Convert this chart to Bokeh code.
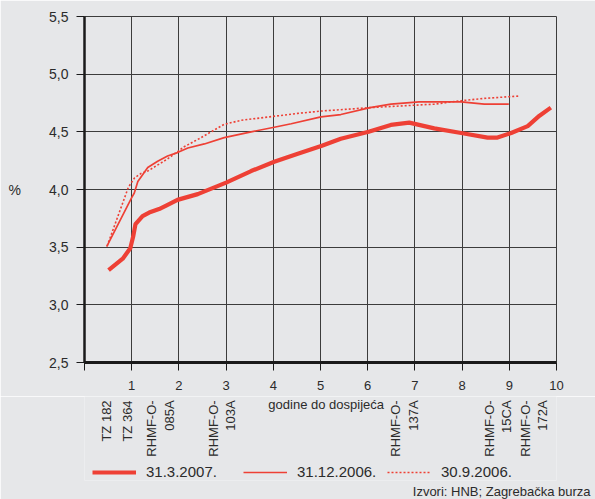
import math
from bokeh.plotting import figure
from bokeh.layouts import column
from bokeh.models import Range1d, FixedTicker, Legend, LegendItem, Title
from bokeh.core.properties import value
from bokeh.embed import file_html
from bokeh.resources import INLINE

# ---- data ----
x_mar07 = [0.51, 0.81, 0.97, 1.03, 1.08, 1.23, 1.37, 1.58, 1.73, 1.97, 2.40, 3.00, 3.53,
           4.02, 4.52, 5.03, 5.43, 6.02, 6.49, 6.88, 7.41, 7.98, 8.54, 8.75, 9.04, 9.39,
           9.64, 9.88]
y_mar07 = [3.30, 3.40, 3.49, 3.59, 3.70, 3.77, 3.80, 3.83, 3.86, 3.91, 3.96, 4.06, 4.16,
           4.24, 4.31, 4.38, 4.44, 4.50, 4.56, 4.58, 4.53, 4.49, 4.45, 4.45, 4.49, 4.55,
           4.64, 4.71]

x_dec06 = [0.47, 1.00, 1.055, 1.13, 1.34, 1.55, 1.76, 1.97, 2.19, 2.54, 2.96, 3.53, 4.02,
           4.38, 5.01, 5.43, 6.05, 6.49, 7.09, 7.98, 8.47, 8.99]
y_dec06 = [3.505, 3.93, 3.97, 4.07, 4.19, 4.245, 4.29, 4.32, 4.36, 4.395, 4.45, 4.50, 4.54,
           4.57, 4.63, 4.65, 4.71, 4.74, 4.76, 4.76, 4.74, 4.74]

x_sep06 = [0.48, 0.93, 1.06, 1.20, 1.34, 1.76, 2.11, 2.47, 2.68, 2.96, 3.32, 3.92, 4.52,
           5.01, 6.05, 7.41, 7.98, 8.47, 9.20]
y_sep06 = [3.51, 4.02, 4.10, 4.14, 4.16, 4.265, 4.37, 4.45, 4.50, 4.565, 4.60, 4.63, 4.66,
           4.68, 4.71, 4.74, 4.77, 4.79, 4.81]

series_labels = ["31.3.2007.", "31.12.2006.", "30.9.2006."]

x_ticks = [0, 1, 2, 3, 4, 5, 6, 7, 8, 9, 10]
y_ticks = [2.5, 3.0, 3.5, 4.0, 4.5, 5.0, 5.5]
y_tick_labels = ["2,5", "3,0", "3,5", "4,0", "4,5", "5,0", "5,5"]

security_names = ["TZ 182", "TZ 364", "RHMF-O-\n085A", "RHMF-O-\n103A",
                  "RHMF-O-\n137A", "RHMF-O-\n15CA", "RHMF-O-\n172A"]
security_pos = [0.62, 1.08, 1.95, 3.25, 7.12, 9.10, 9.87]

x_title = "godine do dospijeća"
x_title_pos = 5.12
y_title = "%"
source_note = "Izvori: HNB; Zagrebačka burza"

# ---- layout / style ----
W = 595
H_TOP = 396
H_BOT = 499 - H_TOP
FRAME_L, FRAME_R, FRAME_T, FRAME_B = 84, 39, 16, 34
BOT_B = 17  # bottom border of the lower strip (holds the source note)

BG = "#e6e7e9"
RED = "#ee4035"
GRID = "#3c3c3c"
TXT = "#2b2b2b"
FONT = "Liberation Sans"

xr = Range1d(0, 10)

p = figure(width=W, height=H_TOP, output_backend="svg", toolbar_location=None,
           x_range=xr, y_range=Range1d(2.5, 5.5),
           min_border_left=FRAME_L, min_border_right=FRAME_R,
           min_border_top=FRAME_T, min_border_bottom=FRAME_B)
p.background_fill_color = BG
p.border_fill_color = BG
p.outline_line_color = GRID
p.outline_line_width = 1

p.xaxis.ticker = FixedTicker(ticks=x_ticks)
p.yaxis.ticker = FixedTicker(ticks=y_ticks)
p.xaxis.major_label_overrides = {0: ""}
p.yaxis.major_label_overrides = {t: l for t, l in zip(y_ticks, y_tick_labels)}

for ax in (p.xaxis[0], p.yaxis[0]):
    ax.axis_line_color = "#1a1a1a"
    ax.major_tick_line_color = "#1a1a1a"
    ax.major_tick_in = 0
    ax.major_tick_out = 8
    ax.minor_tick_line_color = None
    ax.major_label_text_font = FONT
    ax.major_label_text_color = TXT
    ax.major_label_text_font_size = "13px"
    ax.axis_label_text_font = FONT
    ax.axis_label_text_font_style = "normal"
    ax.axis_label_text_color = TXT
p.xaxis.axis_line_width = 3
p.yaxis.axis_line_width = 2.5
p.xaxis.major_label_standoff = 10
p.yaxis.major_label_standoff = 8
p.yaxis.major_label_text_font_size = "14px"

p.yaxis.axis_label = y_title
p.yaxis.axis_label_orientation = "horizontal"
p.yaxis.axis_label_standoff = 25
p.yaxis.axis_label_text_font_size = "14px"

p.xgrid.grid_line_color = GRID
p.ygrid.grid_line_color = GRID
p.xgrid.grid_line_width = 1
p.ygrid.grid_line_width = 1

STYLE_MAR = dict(line_color=RED, line_width=4.2, line_join="round")
STYLE_DEC = dict(line_color=RED, line_width=1.7)
STYLE_SEP = dict(line_color=RED, line_width=1.6, line_dash="2 2")

p.line(x_sep06, y_sep06, **STYLE_SEP)
p.line(x_dec06, y_dec06, **STYLE_DEC)
p.line(x_mar07, y_mar07, **STYLE_MAR)

# ---- lower strip: security names, x title, legend, source (same x scale) ----
# y of the strip is measured in pixels up from the bottom of the page
q = figure(width=W, height=H_BOT, output_backend="svg", toolbar_location=None,
           x_range=xr, y_range=Range1d(BOT_B, H_BOT), x_axis_type=None, y_axis_type=None,
           min_border_left=FRAME_L, min_border_right=FRAME_R,
           min_border_top=0, min_border_bottom=BOT_B)
q.background_fill_color = BG
q.border_fill_color = BG
q.outline_line_color = None
q.grid.visible = False

q.text(x=security_pos, y=[H_BOT - 4] * len(security_pos), text=security_names,
       angle=math.pi / 2, text_align="right", text_baseline="bottom",
       text_font=value(FONT), text_font_size="13px", text_color=TXT,
       text_line_height=1.15)
q.text(x=[x_title_pos], y=[H_BOT], text=[x_title],
       text_align="center", text_baseline="top",
       text_font=value(FONT), text_font_size="13px", text_color=TXT)

# legend: the series are repeated here (hidden) so that the legend can draw their styles
s_mar = q.line(x_mar07, y_mar07, visible=False, **STYLE_MAR)
s_dec = q.line(x_dec06, y_dec06, visible=False, **STYLE_DEC)
s_sep = q.line(x_sep06, y_sep06, visible=False, **STYLE_SEP)
legend_x = [8, 159, 303]
for lx, lab, r in zip(legend_x, series_labels, [s_mar, s_dec, s_sep]):
    q.add_layout(Legend(items=[LegendItem(label=lab, renderers=[r])],
                        location=(lx, 0), orientation="horizontal",
                        glyph_width=44, glyph_height=16, label_standoff=10,
                        padding=0, margin=0, border_line_color=None,
                        background_fill_alpha=0, inactive_fill_alpha=0,
                        label_text_font=FONT, label_text_font_size="15px",
                        label_text_color=TXT), "center")

q.add_layout(Title(text=source_note, align="right", text_font=FONT,
                   text_font_size="13px", text_font_style="normal",
                   text_color=TXT, offset=-34, standoff=2), "below")

open("out.html", "w").write(file_html(column(p, q, spacing=0), INLINE))
